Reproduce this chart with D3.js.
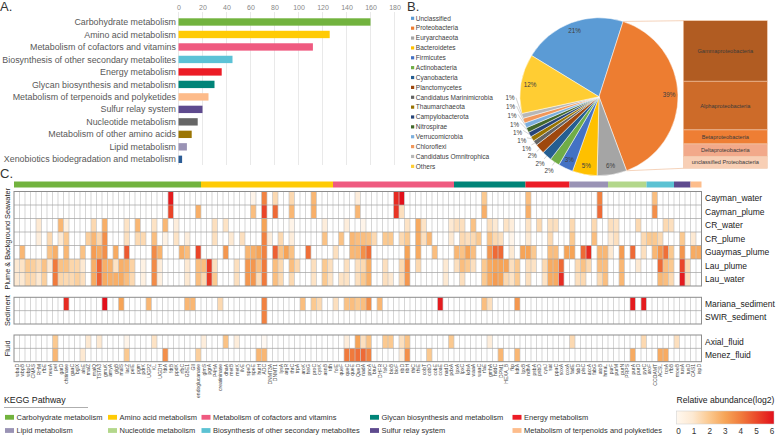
<!DOCTYPE html>
<html>
<head>
<meta charset="utf-8">
<script src="https://cdnjs.cloudflare.com/ajax/libs/d3/7.8.5/d3.min.js"></script>
<style>
body { margin: 0; background: #fff; }
svg { display: block; font-family: "Liberation Sans", Arial, sans-serif; }
</style>
</head>
<body>
<svg id="fig" width="777" height="436"></svg>
<script>
// ---- panel A: genes per KEGG pathway
var pathways = ["Carbohydrate metabolism", "Amino acid metabolism", "Metabolism of cofactors and vitamins",
  "Biosynthesis of other secondary metabolites", "Energy metabolism", "Glycan biosynthesis and metabolism",
  "Metabolism of terpenoids and polyketides", "Sulfur relay system", "Nucleotide metabolism",
  "Metabolism of other amino acids", "Lipid metabolism", "Xenobiotics biodegradation and metabolism"];
var geneCounts = [160, 126, 112, 45, 36, 30, 25, 20, 16, 11, 7, 3];
var pathwayColors = ["#72b33e", "#ffcb05", "#ef5a80", "#5cc2d6", "#ec1c26", "#008478",
  "#fdbb8a", "#5e4a8e", "#666666", "#9b7503", "#9a93b5", "#2c5d96"];
var countTicks = [0, 20, 40, 60, 80, 100, 120, 140, 160, 180];

// ---- panel B: taxonomy
var phyla = ["Unclassified", "Proteobacteria", "Euryarchaeota", "Bacteroidetes", "Firmicutes", "Actinobacteria",
  "Cyanobacteria", "Planctomycetes", "Candidatus Marinimicrobia", "Thaumarchaeota", "Campylobacterota",
  "Nitrospirae", "Verrucomicrobia", "Chloroflexi", "Candidatus Omnitrophica", "Others"];
var phylumPct = [21, 39, 6, 5, 3, 2, 2, 2, 1, 1, 1, 1, 1, 1, 1, 12];
var phylumColors = ["#5b9bd5", "#ed7d31", "#a5a5a5", "#ffc000", "#4472c4", "#70ad47", "#255e91", "#9e480e",
  "#636363", "#997300", "#264478", "#43682b", "#7cafdd", "#f1975a", "#b7b7b7", "#ffcd33"];
var proteoClasses = ["Gammaproteobacteria", "Alphaproteobacteria", "Betaproteobacteria", "Deltaproteobacteria", "unclassified Proteobacteria"];
var proteoPct = [41, 33, 9.5, 8.5, 8];
var proteoColors = ["#b15c22", "#cd6b29", "#ee7e34", "#f2a98a", "#f8cfb5"];

// ---- panel C: heatmap
var keggGroups = ["Carbohydrate metabolism", "Amino acid metabolism", "Metabolism of cofactors and vitamins",
  "Glycan biosynthesis and metabolism", "Energy metabolism", "Lipid metabolism", "Nucleotide metabolism",
  "Biosynthesis of other secondary metabolites", "Sulfur relay system", "Metabolism of terpenoids and polyketides"];
var groupSizes = [34, 24, 22, 13, 8, 7, 7, 5, 3, 2];
var groupColors = ["#72b33e", "#ffcb05", "#ef5a80", "#008478", "#ec1c26", "#9a93b5", "#b3d78b", "#5cc2d3", "#5e4a8e", "#fdbd8c"];
var genes = ["wbaD", "wbpB", "wbpC", "CMAS", "RHM", "rfbE", "neuA", "pel", "gatD", "chitinase", "gaaC", "bglX",
  "alsE", "malZ", "malQ", "TSTA3", "gmuK", "amyA", "glgB", "malS", "lacZ", "pelE", "pgm", "pdrK", "UGP2", "KL",
  "UGDH", "fdtA", "fdtB", "ppdK", "rfbC", "GBE1", "GlI", "endoglucanase",
  "glmS", "pgrA", "P4HA", "creatininase", "dhaA", "metB", "metK", "ilvE", "speD", "speE", "hutH", "ADC",
  "DNMT3A", "DNMT1", "lysA", "argR", "thrC", "trpA", "aroK", "hisG", "proC", "cysK", "asnB", "tdh",
  "folE", "queF", "queC", "queE", "QueD", "nadA", "pncA", "btuF", "DHFR", "folC", "bioB", "bioF", "ribD",
  "ribH", "thiC", "thiE", "cobT", "cobD", "cobE", "coaE", "nadD", "pdxA",
  "lpxA", "lpxC", "kdsA", "waaA", "waaC", "rfaE", "gmhA", "hddC", "DPM1", "HEXA_B", "fkp", "kdtA", "lpxB",
  "ndhA", "psbA", "psbD", "cysJ", "sat", "ppaC", "soxA", "coxA",
  "fadE", "fabD", "plsC", "accA", "fabG", "atoB", "hmaL",
  "purF", "purM", "purN", "PRPS", "purA", "purD", "pyrC",
  "aroF", "CCOAMT", "ACSL", "tcsA", "rfbB",
  "moeB", "tusA", "tusD",
  "CAS1", "ispD"];
var seawaterSites = ["Cayman_water", "Cayman_plume", "CR_water", "CR_plume", "Guaymas_plume", "Lau_plume", "Lau_water"];
var sedimentSites = ["Mariana_sediment", "SWIR_sediment"];
var fluidSites = ["Axial_fluid", "Menez_fluid"];

// non-empty cells per site: [gene column, log2 relative abundance]
var caymanWater = [[28,5.8],[43,0.5],[45,3.8],[47,1.5],[50,1.5],[54,2.5],[62,0.8],[69,5.5],[70,6],[85,2],[93,2.3],[106,3.8],[116,2.3]];
var caymanPlume = [[28,5],[33,2.7],[43,2.3],[45,5],[47,4.3],[50,2.5],[54,2.7],[62,2.5],[69,5.3],[70,1.3],[85,2.7],[93,2.7],[106,4.3],[116,3.5]];
var crWater = [[4,1],[8,2.5],[9,0.7],[14,1.5],[16,2.7],[20,1.2],[22,2.5],[25,1.2],[27,2.5],[29,0.8],[36,1.3],[38,1.2],[45,3],[50,0.5],
  [56,0.8],[60,0.8],[63,0.5],[71,1.2],[73,2.8],[74,1.2],[79,1],[80,1.3],[81,1.3],[83,2.2],[86,1.3],[87,1],[89,1.2],[90,0.8],
  [93,1.2],[95,1.5],[97,1.3],[98,1.3],[101,1.5],[105,1.5],[108,1.3],[109,1.2],[113,1.5],[118,1.5],[119,1.3]];
var crPlume = [[4,0.8],[6,1.5],[8,1],[9,2],[13,1.8],[14,2.5],[15,1.5],[16,3.5],[20,1.3],[22,1.5],[23,1.5],[25,2.3],[27,0.6],[29,1.2],
  [31,0.8],[36,1.3],[39,1],[41,1.3],[45,3.8],[46,0.8],[48,1.5],[50,0.8],[56,2.2],[59,2.2],[61,2.5],[62,2.3],[63,2.3],[64,2.2],
  [65,1.5],[67,2],[68,2],[70,1.5],[71,2],[73,2.8],[74,1.3],[75,2.5],[79,1],[81,1.5],[82,1.3],[83,1.5],[84,2],[86,2.2],[87,1.5],
  [88,1.3],[90,0.5],[93,1],[97,1.5],[101,2],[105,2.3],[108,1],[109,1.3],[114,1.5],[115,2],[116,2],[117,1.5],[121,2],[123,1]];
var guaymasPlume = [[1,2.5],[6,2.2],[7,2.7],[9,2.5],[12,2.2],[14,3.2],[15,2.8],[16,3.5],[18,2.8],[20,4.6],[25,3.6],[26,2.6],[30,2.7],
  [31,2.3],[33,5],[38,3.3],[42,2.5],[43,2.7],[44,3],[45,3.8],[47,4.5],[48,2.2],[49,3],[50,2.2],[53,4.2],[58,1.3],[61,2.5],[62,2.5],
  [63,3.5],[64,4.2],[71,3],[73,2.8],[76,2.3],[80,2.5],[81,2.2],[82,3],[83,2.3],[86,3.3],[87,4.3],[88,4.3],[90,1],[92,3],[93,3],
  [94,2],[97,2.3],[98,2.3],[100,3],[101,3],[103,4.3],[104,5.5],[106,2.5],[107,2.5],[108,1],[110,3.2],[112,4.3],[114,1.3],[116,2.5],
  [117,3.3],[118,4.2],[119,2],[121,3.3],[123,2.8],[124,2.8]];
var lauPlume = [[0,1],[1,1.2],[2,2],[3,1.8],[4,1.4],[5,2.2],[6,1],[7,4],[8,2.2],[9,2.2],[10,1.6],[11,1.6],[12,1],[14,2.7],[15,4.4],
  [16,2.7],[17,2.6],[18,1.2],[19,2.7],[20,2.6],[21,1.7],[23,0.6],[25,3.6],[26,0.8],[31,1],[33,2.3],[34,2.3],[35,5.2],[36,1.3],
  [40,1.3],[42,3.3],[43,3.3],[44,2.3],[45,4],[47,2.3],[48,1.5],[50,2.3],[51,1.5],[54,1.3],[56,2],[57,1.3],[60,1.3],[62,1.3],
  [63,1.5],[64,2.7],[67,1.3],[70,1.5],[71,3.5],[73,1.5],[78,1],[80,1.3],[81,2.3],[82,2],[83,1.3],[85,2],[86,2.8],[87,3],[88,3],
  [89,3],[90,1.3],[91,2],[93,1.3],[94,1.2],[96,1.5],[97,2.8],[98,2.8],[99,4.3],[102,1.5],[103,2.2],[104,1.5],[106,2.3],[107,2.3],
  [110,2.5],[113,1],[117,4.3],[118,2.3],[119,2],[121,5],[122,1.5]];
var lauWater = [[0,1],[1,1],[2,1.6],[3,1.5],[4,1],[5,1.8],[7,4],[8,1.6],[9,1.5],[10,1.5],[11,1.8],[12,1.3],[14,2.8],[15,4.5],[16,2.8],
  [17,2.7],[18,2.7],[19,2.8],[20,2.3],[21,1.5],[23,0.7],[25,3.6],[26,0.7],[31,1],[33,2.3],[34,1.5],[35,5.2],[36,2],[40,1.3],[42,3.3],
  [43,3.3],[44,1.3],[45,4],[47,2.3],[48,1.5],[50,1.5],[54,1.2],[56,2],[57,1.2],[59,1.2],[60,1.2],[62,1.3],[63,2],[64,2.7],[67,1.3],
  [68,1],[70,1.5],[71,3.3],[78,1],[81,1.3],[85,2],[86,2.8],[87,3.2],[88,3],[89,1.5],[90,1.2],[91,2],[93,1.3],[96,1.2],[97,2.8],
  [98,2.8],[99,5.5],[102,1.3],[103,1.5],[106,1.5],[107,2.3],[110,2.5],[117,2.5],[118,2.3],[119,1.5],[121,5.8],[122,1.3]];
var marianaSediment = [[9,5.5],[16,6],[19,3],[24,2.5],[31,2.5],[32,2.5],[37,1.5],[45,3.8],[52,2.3],[54,2],[55,1.5],[58,1.3],[60,2.2],
  [61,2.3],[62,2],[63,2.3],[64,3.5],[66,2.5],[77,5.8],[85,2.3],[86,1.3],[91,3.3],[112,5.8],[114,5.8]];
var swirSediment = [[45,3.8]];
var axialFluid = [[7,2],[13,1],[15,1],[20,0.5],[25,1.2],[34,0.8],[38,2.2],[40,0.8],[45,0.3],[60,0.8],[62,3],[63,1.3],[64,2.2],[67,2],
  [68,2],[70,1.3],[71,2.2],[79,2],[86,0.8],[101,1.5],[114,1.5],[120,1.3]];
var menezFluid = [[7,2.5],[12,1],[20,2],[27,3.5],[33,1.8],[44,2.5],[45,2.5],[60,4],[61,4],[62,4.2],[63,4.3],[64,3.8],[70,0.8],[71,3.5],
  [75,2],[88,2.5],[91,2.5],[112,2.8],[117,2.8],[118,2.8]];
var legendTicks = [0, 1, 2, 3, 4, 5, 6];

var svg = d3.select("#fig");

function panelLabel(t, x, y) {
  svg.append("text").attr("x", x).attr("y", y).attr("font-size", 13).attr("fill", "#333").text(t);
}

// ================= A =================
panelLabel("A.", 0, 11);
var xA = d3.scaleLinear().domain([0, 180]).range([178.5, 394.5]);
var yA = d3.scaleBand().domain(pathways).range([15.8, 165.5]).paddingInner(0.41).paddingOuter(0.2);

svg.append("g").selectAll("line").data(countTicks).join("line")
  .attr("x1", d => xA(d)).attr("x2", d => xA(d)).attr("y1", 12).attr("y2", 165)
  .attr("stroke", "#e3e3e3").attr("stroke-width", 0.8);

var axA = svg.append("g").attr("transform", "translate(0,10)")
  .call(d3.axisTop(xA).tickValues(countTicks).tickSize(0).tickPadding(0));
axA.select(".domain").remove();
axA.selectAll("text").attr("font-size", 7).attr("fill", "#888").attr("font-family", "Liberation Sans, Arial, sans-serif");

svg.append("g").selectAll("rect").data(pathways).join("rect")
  .attr("x", xA(0)).attr("y", d => yA(d))
  .attr("width", (d, i) => xA(geneCounts[i]) - xA(0)).attr("height", yA.bandwidth())
  .attr("fill", (d, i) => pathwayColors[i]);

svg.append("g").selectAll("text").data(pathways).join("text")
  .attr("x", 176).attr("y", d => yA(d) + yA.bandwidth() / 2).attr("dy", "0.35em")
  .attr("text-anchor", "end").attr("font-size", 8.9).attr("fill", "#595959").text(d => d);

// ================= B =================
panelLabel("B.", 407, 11);
var legB = svg.append("g").selectAll("g").data(phyla).join("g")
  .attr("transform", (d, i) => "translate(411," + (18.3 + i * 9.87) + ")");
legB.append("rect").attr("x", 0).attr("y", -1.6).attr("width", 3.2).attr("height", 3.2).attr("fill", (d, i) => phylumColors[i]);
legB.append("text").attr("x", 4.8).attr("dy", "0.35em").attr("font-size", 6.5).attr("fill", "#404040").text(d => d);

var cx = 599, cy = 96.7, R = 79;
var a0 = -58.6 * Math.PI / 180;
var pie = d3.pie().sort(null).value(d => d).startAngle(a0).endAngle(a0 + 2 * Math.PI);
var arcs = pie(phylumPct);
var arc = d3.arc().innerRadius(0).outerRadius(R);
var gPie = svg.append("g").attr("transform", "translate(" + cx + "," + cy + ")");
gPie.selectAll("path").data(arcs).join("path")
  .attr("d", arc).attr("fill", (d, i) => phylumColors[i]).attr("stroke", "#fff").attr("stroke-width", 0.5);

function polar(r, a) { return [r * Math.sin(a), -r * Math.cos(a)]; }

// inside labels for large slices
arcs.forEach(function(d) {
  if (d.value >= 3) {
    var m = (d.startAngle + d.endAngle) / 2, p = polar(70, m);
    gPie.append("text").attr("x", p[0]).attr("y", p[1]).attr("dy", "0.35em").attr("text-anchor", "middle")
      .attr("font-size", 6.3).attr("fill", "#404040").text(d.value + "%");
  }
});
// outside labels for small slices, spread so they don't collide
var prev = -Infinity, gap = 5.8 * Math.PI / 180;
arcs.forEach(function(d) {
  if (d.value < 3) {
    var m = (d.startAngle + d.endAngle) / 2;
    var la = Math.max(m, prev + gap);
    prev = la;
    var p0 = polar(R, m), p1 = polar(R + 4, la), p2 = polar(R + 10, la);
    gPie.append("polyline").attr("points", [p0, p1].map(p => p.join(",")).join(" "))
      .attr("fill", "none").attr("stroke", "#a6a6a6").attr("stroke-width", 0.5);
    gPie.append("text").attr("x", p2[0]).attr("y", p2[1]).attr("dy", "0.35em").attr("text-anchor", "middle")
      .attr("font-size", 6.3).attr("fill", "#404040").text(d.value + "%");
  }
});

// bar of Proteobacteria
var yP = d3.scaleLinear().domain([0, d3.sum(proteoPct)]).range([20.7, 168.3]);
var bx0 = 683.3, bx1 = 767.3;
var proteo = arcs[1];
var pt = polar(R, proteo.startAngle), pb = polar(R, proteo.endAngle);
svg.append("line").attr("x1", cx + pt[0]).attr("y1", cy + pt[1]).attr("x2", bx0).attr("y2", yP.range()[0])
  .attr("stroke", "#f2c8aa").attr("stroke-width", 0.8);
svg.append("line").attr("x1", cx + pb[0]).attr("y1", cy + pb[1]).attr("x2", bx0).attr("y2", yP.range()[1])
  .attr("stroke", "#f2c8aa").attr("stroke-width", 0.8);
var cum = 0;
proteoClasses.forEach(function(c, i) {
  var y0 = yP(cum), y1 = yP(cum + proteoPct[i]);
  cum += proteoPct[i];
  svg.append("rect").attr("x", bx0).attr("y", y0).attr("width", bx1 - bx0).attr("height", y1 - y0)
    .attr("fill", proteoColors[i]).attr("stroke", "#f2c8aa").attr("stroke-width", 0.6);
  svg.append("text").attr("x", (bx0 + bx1) / 2).attr("y", (y0 + y1) / 2).attr("dy", "0.35em")
    .attr("text-anchor", "middle").attr("font-size", 5.6).attr("fill", "#3a3a3a").text(c);
});

// ================= C =================
panelLabel("C.", 0, 178);
var nGenes = genes.length;
var xC = d3.scaleBand().domain(d3.range(nGenes)).range([14, 701.5]);
var heatColor = d3.scaleLinear().domain(legendTicks)
  .range(["#ffffff", "#fde9d2", "#fbc990", "#f6a457", "#f07a3c", "#ea4529", "#e2101b"]).clamp(true);

// pathway colour bar
var start = 0;
groupSizes.forEach(function(n, i) {
  svg.append("rect").attr("x", xC(start)).attr("y", 181.5).attr("width", n * xC.bandwidth()).attr("height", 6)
    .attr("fill", groupColors[i]);
  start += n;
});

function expand(pairs) {
  var row = new Array(nGenes).fill(0);
  pairs.forEach(p => { row[p[0]] = p[1]; });
  return row;
}
var blocks = [
  { title: "Plume & Background Seawater", sites: seawaterSites,
    rows: [caymanWater, caymanPlume, crWater, crPlume, guaymasPlume, lauPlume, lauWater], top: 191.5, bottom: 286 },
  { title: "Sediment", sites: sedimentSites, rows: [marianaSediment, swirSediment], top: 297.3, bottom: 324 },
  { title: "Fluid", sites: fluidSites, rows: [axialFluid, menezFluid], top: 335, bottom: 361.7 }
];

blocks.forEach(function(b) {
  var yB = d3.scaleBand().domain(b.sites).range([b.top, b.bottom]);
  var g = svg.append("g");
  b.sites.forEach(function(s, r) {
    var vals = expand(b.rows[r]);
    g.append("g").selectAll("rect").data(vals).join("rect")
      .attr("x", (v, i) => xC(i)).attr("y", yB(s)).attr("width", xC.bandwidth() + 0.1).attr("height", yB.bandwidth())
      .attr("fill", v => v > 0 ? heatColor(v) : "#fff");
    svg.append("text").attr("x", 705).attr("y", yB(s) + yB.bandwidth() / 2).attr("dy", "0.35em")
      .attr("font-size", 8.5).attr("fill", "#222").text(s);
  });
  // grid
  g.append("g").selectAll("line").data(d3.range(1, nGenes)).join("line")
    .attr("x1", i => xC(i)).attr("x2", i => xC(i)).attr("y1", b.top).attr("y2", b.bottom)
    .attr("stroke", "#c4c4c4").attr("stroke-width", 0.7);
  g.append("g").selectAll("line").data(b.sites.slice(1)).join("line")
    .attr("x1", 14).attr("x2", 701.5).attr("y1", s => yB(s)).attr("y2", s => yB(s))
    .attr("stroke", "#a0a0a0").attr("stroke-width", 0.7);
  g.append("rect").attr("x", 14).attr("y", b.top).attr("width", 687.5).attr("height", b.bottom - b.top)
    .attr("fill", "none").attr("stroke", "#8c8c8c").attr("stroke-width", 1);
  svg.append("text").attr("transform", "translate(9.5," + ((b.top + b.bottom) / 2) + ") rotate(-90)")
    .attr("text-anchor", "middle").attr("font-size", 7.3).attr("fill", "#222").text(b.title);
});

// gene names
svg.append("g").selectAll("text").data(genes).join("text")
  .attr("transform", (d, i) => "translate(" + (xC(i) + xC.bandwidth() / 2) + ",364) rotate(-90)")
  .attr("dy", "0.35em").attr("text-anchor", "end").attr("font-size", 5).attr("fill", "#444").text(d => d);

// KEGG legend
svg.append("text").attr("x", 4).attr("y", 403).attr("font-size", 8.8).attr("fill", "#222").text("KEGG Pathway");
svg.append("line").attr("x1", 4).attr("x2", 88).attr("y1", 407.5).attr("y2", 407.5).attr("stroke", "#999").attr("stroke-width", 0.8);
var legCols = [5, 108, 201.5, 370, 512.5];
var legItems = svg.append("g").selectAll("g").data(keggGroups).join("g")
  .attr("transform", (d, i) => "translate(" + legCols[i % 5] + "," + (i < 5 ? 417.3 : 430.5) + ")");
legItems.append("rect").attr("x", 0).attr("y", -2.4).attr("width", 9).attr("height", 4.8).attr("fill", (d, i) => groupColors[i]);
legItems.append("text").attr("x", 11.5).attr("dy", "0.35em").attr("font-size", 7.5).attr("fill", "#333").text(d => d);

// colour scale legend
svg.append("text").attr("x", 676.5).attr("y", 403).attr("font-size", 8.6).attr("fill", "#222").text("Relative abundance(log2)");
var grad = svg.append("defs").append("linearGradient").attr("id", "abund");
legendTicks.forEach(function(t) {
  grad.append("stop").attr("offset", (t / 6 * 100) + "%").attr("stop-color", t === 0 ? "#fff8ef" : heatColor(t));
});
var xL = d3.scaleLinear().domain([0, 6]).range([678.5, 772]);
svg.append("rect").attr("x", 676.5).attr("y", 411).attr("width", 97.5).attr("height", 13)
  .attr("fill", "url(#abund)").attr("stroke", "#ccc").attr("stroke-width", 0.5);
svg.append("g").selectAll("text").data(legendTicks).join("text")
  .attr("x", d => xL(d)).attr("y", 434).attr("text-anchor", "middle").attr("font-size", 8.2).attr("fill", "#333").text(d => d);
</script>
</body>
</html>
